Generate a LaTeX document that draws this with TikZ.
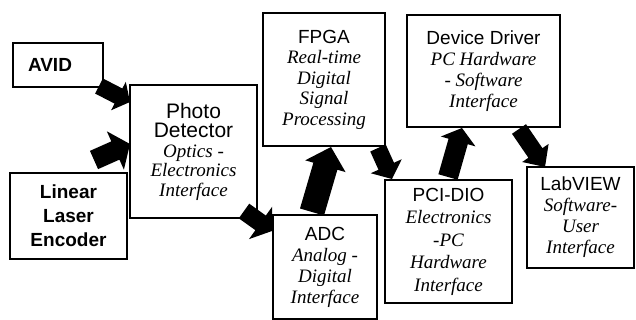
\documentclass[tikz,border=0pt]{standalone}
\usepackage{fontspec}
\setmainfont{Liberation Serif}
\setsansfont{Liberation Sans}
\usetikzlibrary{calc}

% line styles inside the boxes
\newcommand{\hd}[1]{{\sffamily #1}}
\newcommand{\hb}[1]{{\sffamily\bfseries #1}}
\newcommand{\ds}[1]{{\itshape #1}}

% thick block arrow from #1 to #2:
% #3 half body width, #4 half head width, #5 head length (all in pt)
\newcommand{\fatarrow}[5]{%
  \fill[black] let \p1=(#1), \p2=(#2),
        \n1={atan2(\y2-\y1,\x2-\x1)},
        \n2={veclen(\x2-\x1,\y2-\y1)-#5} in
    ($(\p1)+(\n1+90:#3pt)$) --
    ($(\p1)+(\n1:\n2)+(\n1+90:#3pt)$) --
    ($(\p1)+(\n1:\n2)+(\n1+90:#4pt)$) --
    (\p2) --
    ($(\p1)+(\n1:\n2)+(\n1-90:#4pt)$) --
    ($(\p1)+(\n1:\n2)+(\n1-90:#3pt)$) --
    ($(\p1)+(\n1-90:#3pt)$) -- cycle;}

\tikzset{
  box/.style={draw, line width=2pt, fill=white, align=center, inner sep=2pt,
              font=\fontsize{19}{21}\selectfont}
}

\begin{document}
\begin{tikzpicture}[x=1pt, y=-1pt]
\useasboundingbox (0,0) rectangle (636,320);

% blocks
\node[box, minimum width=90, minimum height=44, text width=60pt, inner xsep=15pt, align=left]
  (avid) at (58,65) {\hb{AVID}};
\node[box, minimum width=127, minimum height=133, font=\fontsize{19}{19.5}\selectfont]
  (photo) at (193.5,151.5)
  {{\fontsize{21}{19.5}\selectfont\hd{Photo}}\\{\fontsize{21}{19.5}\selectfont\hd{Detector}}\\\ds{Optics -}\\\ds{Electronics}\\\ds{Interface}};
\node[box, minimum width=117, minimum height=86, font=\fontsize{19}{24}\selectfont]
  (laser) at (68.5,216) {\hb{Linear}\\\hb{Laser}\\\hb{Encoder}};
\node[box, minimum width=122, minimum height=133, font=\fontsize{19}{20.5}\selectfont]
  (fpga) at (324,79.5)
  {\hd{FPGA}\\\ds{Real-time}\\\ds{Digital}\\\ds{Signal}\\\ds{Processing}};
\node[box, minimum width=104, minimum height=104]
  (adc) at (325,267) {\hd{ADC}\\\ds{Analog -}\\\ds{Digital}\\\ds{Interface}};
\node[box, minimum width=127, minimum height=123, font=\fontsize{19}{22.5}\selectfont]
  (pci) at (448.5,241.5)
  {\hd{PCI-DIO}\\\ds{Electronics}\\\ds{-PC}\\\ds{Hardware}\\\ds{Interface}};
\node[box, minimum width=153, minimum height=112]
  (drv) at (483.5,71)
  {\hd{Device Driver}\\\ds{PC Hardware}\\\ds{- Software}\\\ds{Interface}};
\node[box, minimum width=107, minimum height=101]
  (lab) at (580.5,217.5)
  {\hd{LabVIEW}\\\ds{Software-}\\\ds{User}\\\ds{Interface}};

% data flow
\fatarrow{$(avid.south east)+(-5,-2)$}{$(photo.north west)+(1,18)$}{8.5}{16}{13}
\fatarrow{$(laser.north east)+(-34,-12)$}{$(photo.north west)+(1,60)$}{10}{21}{16}
\fatarrow{$(photo.south east)+(-14,-8)$}{$(adc.north west)+(0,17)$}{9}{20}{14}
\fatarrow{$(adc.north west)+(40,-2)$}{$(fpga.south west)+(69,0)$}{12.5}{21}{20}
\fatarrow{$(fpga.south east)+(-8,1)$}{$(pci.north west)+(8,0)$}{8.5}{17}{14}
\fatarrow{$(pci.north west)+(64,-2)$}{$(drv.south west)+(56,0)$}{10}{18}{14}
\fatarrow{$(drv.south west)+(113,1)$}{$(lab.north west)+(19,1)$}{8.5}{16}{17}
\end{tikzpicture}
\end{document}
